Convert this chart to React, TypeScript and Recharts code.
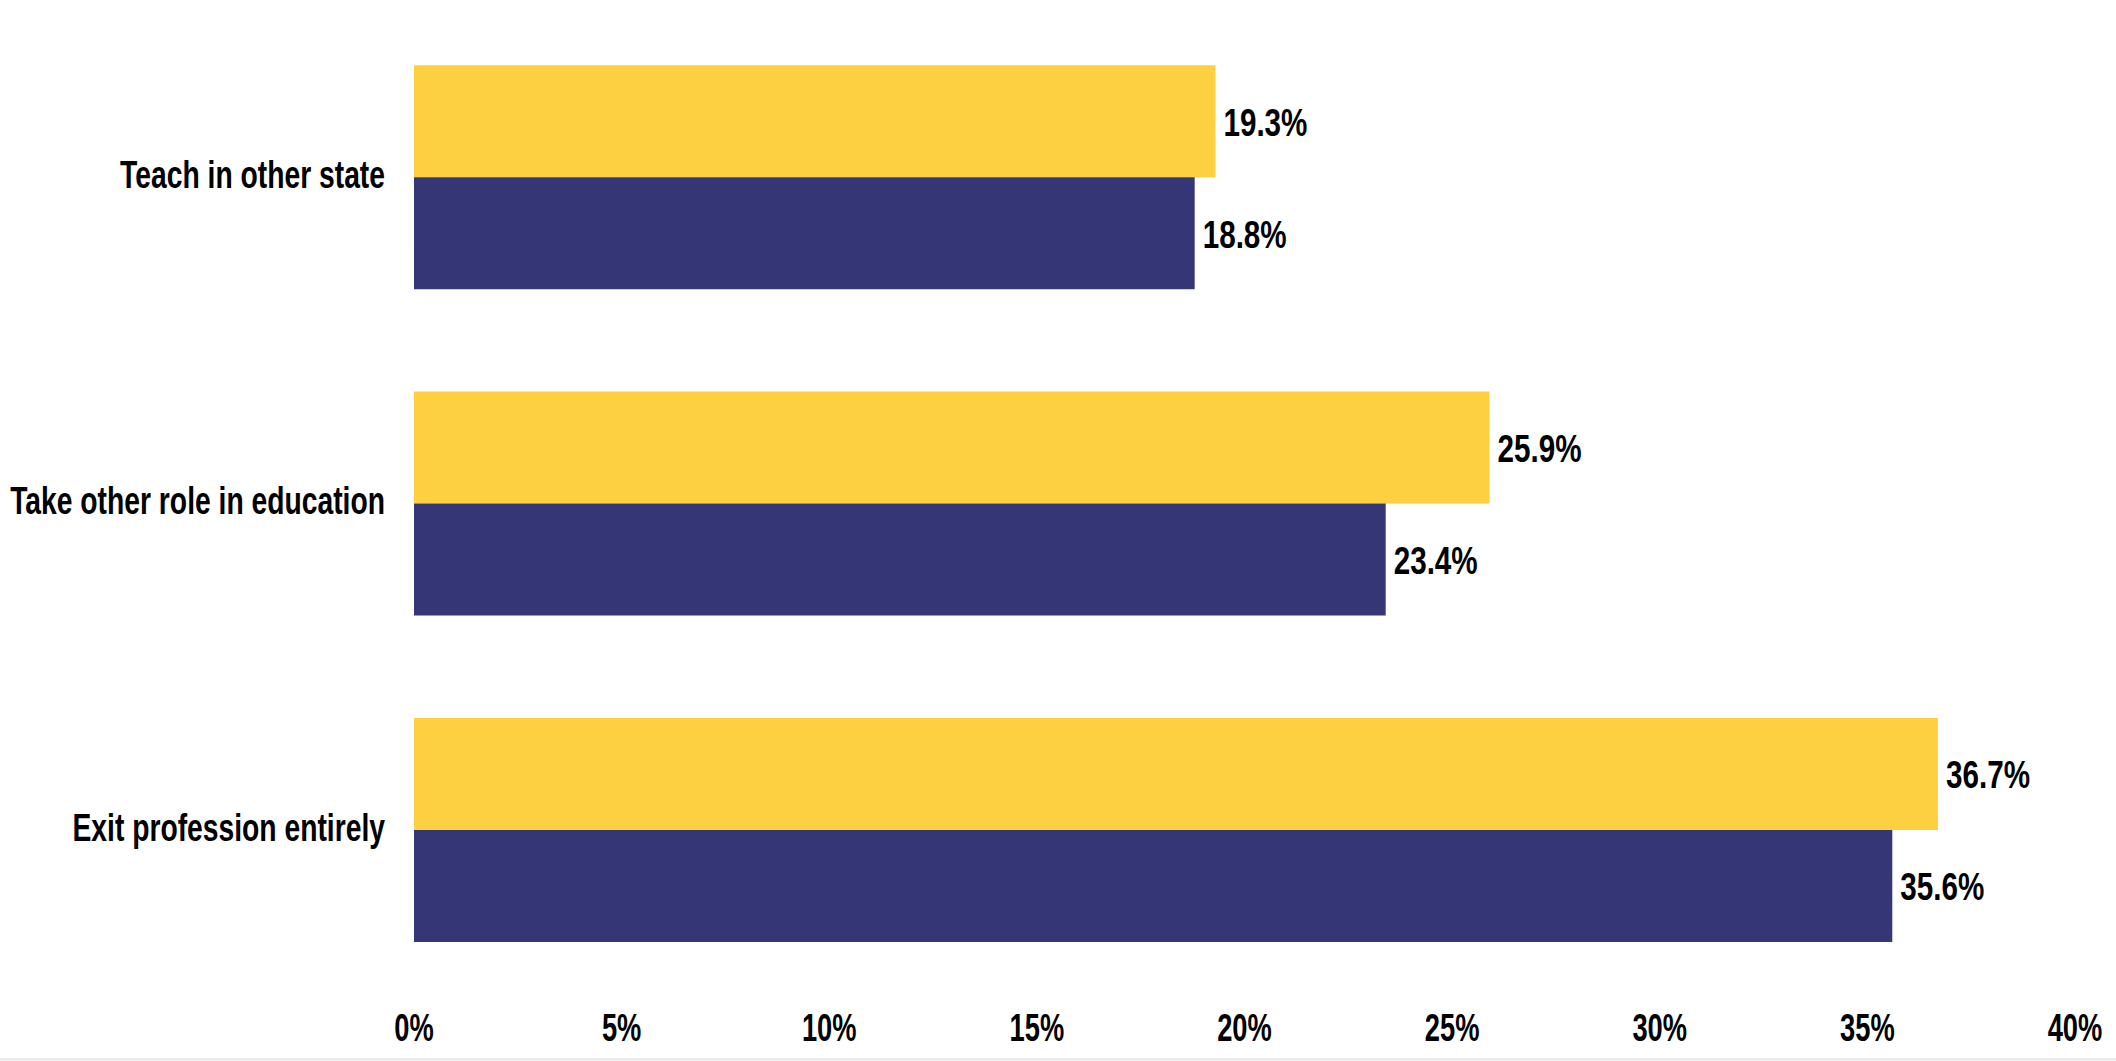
import React from "react";
import { BarChart, Bar, XAxis, YAxis, LabelList } from "recharts";

const categories = ["Teach in other state", "Take other role in education", "Exit profession entirely"];
const yellowValues = [19.3, 25.9, 36.7];
const navyValues = [18.8, 23.4, 35.6];
const xTicks = [0, 5, 10, 15, 20, 25, 30, 35, 40];

const data = categories.map((c, i) => ({ category: c, yellow: yellowValues[i], navy: navyValues[i] }));

const FONT = "'Liberation Sans', Arial, sans-serif";
const SX = 0.76;
const FS = 39;
const pct = (v: number) => `${v}%`;

const Squeezed = ({ x, y, anchor, text, sx = SX }: any) => (
  <text
    x={0}
    y={0}
    transform={`translate(${x},${y}) scale(${sx},1)`}
    textAnchor={anchor}
    dominantBaseline="central"
    fill="#000"
    fontSize={FS}
    fontWeight={700}
    fontFamily={FONT}
  >
    {text}
  </text>
);

const YTick = (props: any) => {
  const { x, y, payload } = props;
  return <Squeezed x={x} y={y - 3} anchor="end" sx={0.725} text={payload.value} />;
};

const XTick = (props: any) => {
  const { x, y, payload } = props;
  return <Squeezed x={x} y={y + 35} anchor="middle" sx={0.7} text={pct(payload.value)} />;
};

const ValueLabel = (props: any) => {
  const { x, y, width, height, value } = props;
  return <Squeezed x={x + width + 8} y={y + height / 2 + 1} anchor="start" text={pct(value)} />;
};

export default function App() {
  return (
    <div style={{ width: 2116, height: 1061, background: "#fff", position: "relative" }}>
      <style>{`body{margin:0;}`}</style>
      <BarChart
        width={2116}
        height={1058}
        data={data}
        layout="vertical"
        margin={{ top: 14, right: 41, bottom: 15, left: 0 }}
        barCategoryGap="15.7%"
        barGap={0}
      >
        <XAxis
          type="number"
          domain={[0, 40]}
          ticks={xTicks}
          axisLine={false}
          tickLine={false}
          tickSize={0}
          tickMargin={0}
          height={50}
          tick={<XTick />}
        />
        <YAxis
          type="category"
          dataKey="category"
          width={414}
          axisLine={false}
          tickLine={false}
          tickSize={0}
          tickMargin={29}
          tick={<YTick />}
        />
        <Bar dataKey="yellow" fill="#FDD042" isAnimationActive={false}>
          <LabelList dataKey="yellow" content={<ValueLabel />} />
        </Bar>
        <Bar dataKey="navy" fill="#343676" isAnimationActive={false}>
          <LabelList dataKey="navy" content={<ValueLabel />} />
        </Bar>
      </BarChart>
      <div style={{ position: "absolute", left: 0, top: 1058, width: 2116, height: 3, background: "#ececec" }} />
    </div>
  );
}
